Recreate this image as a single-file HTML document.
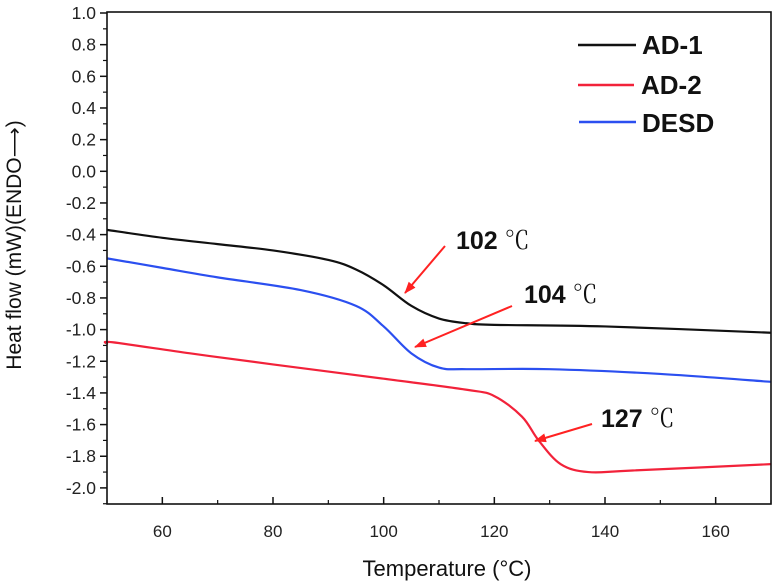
<!DOCTYPE html>
<html><head><meta charset="utf-8"><style>
body{margin:0;background:#fff}
svg{display:block;font-family:"Liberation Sans",Arial,sans-serif}
</style></head><body>
<svg id="chart" width="777" height="585" viewBox="0 0 777 585">
<defs><marker id="ah" markerWidth="12" markerHeight="9" refX="11" refY="4.5" orient="auto" markerUnits="userSpaceOnUse"><path d="M0,0 L12,4.5 L0,9 z" fill="#f22"/></marker></defs>
<g id="axes"></g><g id="series"></g>
<rect x="107" y="12" width="664" height="492" fill="none" stroke="#111" stroke-width="1.6"/>
<text x="21" y="245" transform="rotate(-90 21 245)" text-anchor="middle" font-size="21" fill="#111">Heat flow (mW)(ENDO⟶)</text>
<text x="447" y="576" text-anchor="middle" font-size="22" fill="#111">Temperature (°C)</text>
<g font-weight="bold" font-size="26" fill="#111">
<line x1="578" y1="45" x2="636" y2="45" stroke="#111" stroke-width="2.5"/>
<text x="642" y="54">AD-1</text>
<line x1="578" y1="85" x2="634" y2="85" stroke="#f2223a" stroke-width="2.5"/>
<text x="641" y="94">AD-2</text>
<line x1="579" y1="122" x2="636" y2="122" stroke="#2b4ff0" stroke-width="2.5"/>
<text x="642" y="132">DESD</text>
</g>
<g font-weight="bold" font-size="25" fill="#111">
<text x="456" y="249">102 <tspan font-weight="normal" font-family="'Noto Serif CJK SC',serif">℃</tspan></text>
<text x="524" y="303">104 <tspan font-weight="normal" font-family="'Noto Serif CJK SC',serif">℃</tspan></text>
<text x="601" y="427">127 <tspan font-weight="normal" font-family="'Noto Serif CJK SC',serif">℃</tspan></text>
</g>
<line x1="445" y1="246" x2="405" y2="293" stroke="#f22" stroke-width="2" marker-end="url(#ah)"/>
<line x1="512" y1="306" x2="415" y2="347" stroke="#f22" stroke-width="2" marker-end="url(#ah)"/>
<line x1="592" y1="424" x2="535" y2="441" stroke="#f22" stroke-width="2" marker-end="url(#ah)"/>
</svg>
<script>
const xTicks=[60,80,100,120,140,160];
const yTicks=[1.0,0.8,0.6,0.4,0.2,0.0,-0.2,-0.4,-0.6,-0.8,-1.0,-1.2,-1.4,-1.6,-1.8,-2.0];
const ad1T=[50,60,70,80,90,95,100,105,110,115,120,140,170];
const ad1V=[-0.37,-0.42,-0.46,-0.50,-0.56,-0.62,-0.72,-0.85,-0.93,-0.96,-0.97,-0.98,-1.02];
const desdT=[50,60,70,85,95,100,105,110,115,130,150,170];
const desdV=[-0.55,-0.61,-0.67,-0.75,-0.85,-0.98,-1.15,-1.24,-1.25,-1.25,-1.28,-1.33];
const ad2T=[50,51,65,80,100,115,120,125,128,132,137,145,170];
const ad2V=[-1.09,-1.08,-1.15,-1.22,-1.31,-1.38,-1.42,-1.55,-1.70,-1.85,-1.90,-1.89,-1.85];
const NS='http://www.w3.org/2000/svg';
const X=v=>107+(v-50)*(664/120);
const Y=v=>13+(1.0-v)*158.3;
function mk(tag,attrs,parent){const e=document.createElementNS(NS,tag);for(const k in attrs)e.setAttribute(k,attrs[k]);parent.appendChild(e);return e;}
const ax=document.getElementById('axes');
xTicks.forEach(t=>{
 const l=mk('line',{x1:X(t),x2:X(t),y1:504,y2:497,stroke:'#111','stroke-width':1.5},ax);
 
 
 const tx=mk('text',{x:X(t),y:537,'text-anchor':'middle','font-size':17,fill:'#222'},ax);
 tx.textContent=t;
 
 
});
for(let t=50;t<=170;t+=10){if(t%20===0)continue;const l=mk('line',{x1:X(t),x2:X(t),y1:504,y2:500,stroke:'#111','stroke-width':1.2},ax);
 
 }
yTicks.forEach(t=>{
 const l=mk('line',{x1:100,x2:107,y1:Y(t),y2:Y(t),stroke:'#111','stroke-width':1.5},ax);
 
 
 const tx=mk('text',{x:96,y:Y(t)+6,'text-anchor':'end','font-size':17.5,fill:'#222'},ax);
 tx.textContent=t.toFixed(1);
 
 
});
for(let i=0;i<16;i++){const v=0.9-i*0.2;const l=mk('line',{x1:103,x2:107,y1:Y(v),y2:Y(v),stroke:'#111','stroke-width':1.2},ax);
 
 }
const sg=document.getElementById('series');
function line(T,V,color,name){
 const pts=T.map((t,i)=>[X(t),Y(V[i])]);
 let d='M'+pts[0][0]+','+pts[0][1];
 for(let i=0;i<pts.length-1;i++){
  const p0=pts[i-1]||pts[i],p1=pts[i],p2=pts[i+1],p3=pts[i+2]||p2;
  const c1x=p1[0]+(p2[0]-p0[0])/6,c1y=p1[1]+(p2[1]-p0[1])/6,c2x=p2[0]-(p3[0]-p1[0])/6,c2y=p2[1]-(p3[1]-p1[1])/6;
  d+=` C${c1x},${c1y} ${c2x},${c2y} ${p2[0]},${p2[1]}`;
 }
 const p=mk('path',{d:d,fill:'none',stroke:color,'stroke-width':2.2},sg);
 
 
}
line(ad1T,ad1V,'#111','series-ad1');
line(desdT,desdV,'#2b4ff0','series-desd');
line(ad2T,ad2V,'#f2223a','series-ad2');
</script>
</body></html>
